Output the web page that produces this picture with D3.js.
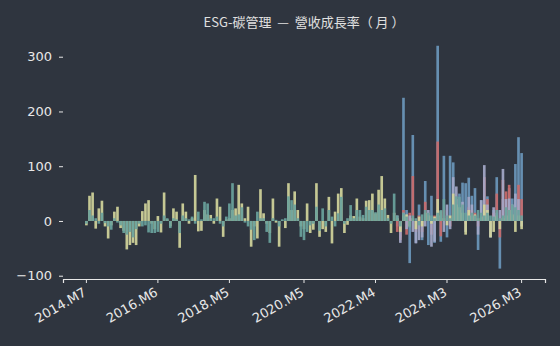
<!DOCTYPE html>
<html>
<head>
<meta charset="utf-8">
<script src="https://cdn.jsdelivr.net/npm/d3@7"></script>
<style>
  html, body { margin: 0; padding: 0; background: #2f353f; }
  svg { display: block; }
  .axis text { fill: #e8e8e8; font-family: 'DejaVu Sans', sans-serif; font-size: 13px; }
  .axis line, .axis path { stroke: #e8e8e8; }
</style>
</head>
<body>
<div class="container"></div>
<script>
// monthly categories 2014.M7 .. 2026.M3
const months = [];
for (let y = 2014, m = 7; y < 2026 || (y === 2026 && m <= 3); m++) {
  if (m > 12) { m = 1; y++; }
  months.push(y + '.M' + m);
}
const tickLabels = ['2014.M7', '2016.M6', '2018.M5', '2020.M5', '2022.M4', '2024.M3', '2026.M3'];
const yTicks = [-100, 0, 100, 200, 300];

// one series per company, growth in %, null = no data
const seriesYellow = [
  -8, 46, 52, -14, 23, 37, -10, -32, -8, 17,
  26, -13, -18, -52, -44, -40, -44, -10, 18, 32,
  38, -5, -15, 9, -21, 52, 3, -10, 23, 17,
  -49, 32, 17, -5, 5, 84, -19, -18, 20, 12,
  11, -5, 41, 26, -29, 3, 5, 20, 23, 66,
  32, 5, 26, -47, -10, -32, 58, 14, -5, -22,
  41, -3, -47, 1, -13, 69, 20, 54, 20, -10,
  -15, 32, -22, -16, 69, -29, -15, -20, 44, -41,
  17, 50, 60, -22, -7, 10, 9, 41, 8, 5,
  37, 38, 50, 14, 57, 82, 41, 11, -22, 15,
  5, -20, 10, 12, -10, 5, -15, 8, -10, 15,
  10, -5, 8, 40, 18, 5, -8, 10, 50, 30,
  25, 15, -25, 20, 10, 12, 5, 8, 30, 20,
  -30, -20, 10, -15, 5, 10, 20, 12, -20, 10,
  -15
];
const seriesTeal = [
  -5, 20, 10, 5, -5, 15, -4, -10, -16, 5,
  -3, -8, -22, -25, -20, -30, -15, -5, -10, -8,
  -21, -22, -22, -20, -5, 10, 5, -13, 5, 3,
  -22, 10, 5, 3, 8, -5, 17, 3, 35, 32,
  5, 5, 8, -5, -10, 8, 32, 69, 10, 12,
  25, -3, -10, -16, -35, 17, 5, 5, -20, -40,
  5, 2, -10, 3, 5, 45, 38, 30, 5, -29,
  -35, -20, -8, -5, 26, -18, 23, -10, 20, 8,
  -10, 14, 44, -5, 5, 29, 5, 20, 20, 11,
  26, 20, 20, 16, 30, 20, 23, 5, -5, 50,
  10, -10, 15, 8, -12, 10, 5, -8, 12, 20,
  15, 10, 5, 15, 20, 40, 10, 5, 30, 45,
  44, 30, 15, 10, 15, 10, 20, 15, 10, 15,
  10, 8, 20, 5, 10, 25, 20, 30, 25, 20,
  10
];
// later companies start at 2022.M11 (index 100)
const seriesBlue = [
  -10, -30, 225, 20, -77, 157, -40, 30, -35, 73,
  -44, 46, -40, 320, -38, 119, -30, 119, 107, 40,
  50, 70, 69, 79, 46, 60, -53, 38, 20, 45,
  -30, 20, 80, -87, 40, 25, 60, 41, 104, 153,
  124
];
const seriesRed = [
  -20, -35, 20, -25, 15, 82, -20, 10, -20, 35,
  15, -25, 10, 145, -28, 20, 10, -10, 30, 40,
  10, 30, -5, 25, 20, 15, -10, 10, 80, 40,
  -5, 15, 50, -30, 75, 54, 66, 10, 20, 66,
  40
];
const seriesLavender = [
  10, -40, 15, -15, 10, -20, -41, -35, -30, -10,
  20, -47, -38, 20, 10, -20, 30, -15, 80, 63,
  20, 35, -20, 44, 30, 10, -25, 38, 102, 30,
  -30, 25, 15, 20, 95, 40, 41, 30, 50, 40,
  -10
];
const laterStart = 100;

const w = 560;
const h = 346;

const svg = d3
  .select('.container')
  .append('svg')
  .attr('width', w)
  .attr('height', h);

svg.append('rect').attr('width', w).attr('height', h).attr('fill', '#2f353f');

const xScale = d3
  .scaleBand()
  .domain(months)
  .range([63, 545])
  .paddingInner(0.15)
  .paddingOuter(7.1);

const yScale = d3.scaleLinear().domain([-106, 336]).range([279, 37]);

const toSeries = (vals, start) =>
  vals.map((v, i) => ({ month: months[i + start], value: v })).filter((d) => d.value !== null);

// drawing order: later companies under, early ones on top
const layers = [
  { color: '#6b97bb', data: toSeries(seriesBlue, laterStart) },
  { color: '#c96a6a', data: toSeries(seriesRed, laterStart) },
  { color: '#a4a8c8', data: toSeries(seriesLavender, laterStart) },
  { color: '#d2d59b', data: toSeries(seriesYellow, 0) },
  { color: '#6aa39d', data: toSeries(seriesTeal, 0) }
];

layers.forEach((layer) => {
  svg
    .append('g')
    .selectAll('rect')
    .data(layer.data)
    .enter()
    .append('rect')
    .attr('x', (d) => xScale(d.month))
    .attr('width', xScale.bandwidth())
    .attr('y', (d) => yScale(Math.max(0, d.value)))
    .attr('height', (d) => Math.abs(yScale(d.value) - yScale(0)))
    .style('fill', layer.color)
    .style('opacity', 0.92);
});

svg
  .append('g')
  .attr('class', 'axis')
  .attr('transform', 'translate(0,279)')
  .call(d3.axisBottom(xScale).tickValues(tickLabels).tickSizeOuter(0).tickSize(4))
  .call((g) => g.select('.domain').attr('stroke-width', 1.2))
  .selectAll('text')
  .attr('text-anchor', 'end')
  .attr('dx', '-0.55em')
  .attr('dy', '0.55em')
  .attr('transform', 'rotate(-30)');

svg
  .append('g')
  .attr('class', 'axis')
  .attr('transform', 'translate(63,0)')
  .call(d3.axisLeft(yScale).tickValues(yTicks).tickSize(4).tickPadding(7))
  .call((g) => g.select('.domain').remove());

svg
  .append('text')
  .attr('x', 304)
  .attr('y', 27)
  .attr('text-anchor', 'middle')
  .style('fill', '#e0e0e0')
  .style('font-family', "'Noto Sans CJK TC', sans-serif")
  .style('font-size', '13px')
  .style('white-space', 'pre')
  .text('ESG-碳管理  —  營收成長率（ 月 ）');
</script>
</body>
</html>
